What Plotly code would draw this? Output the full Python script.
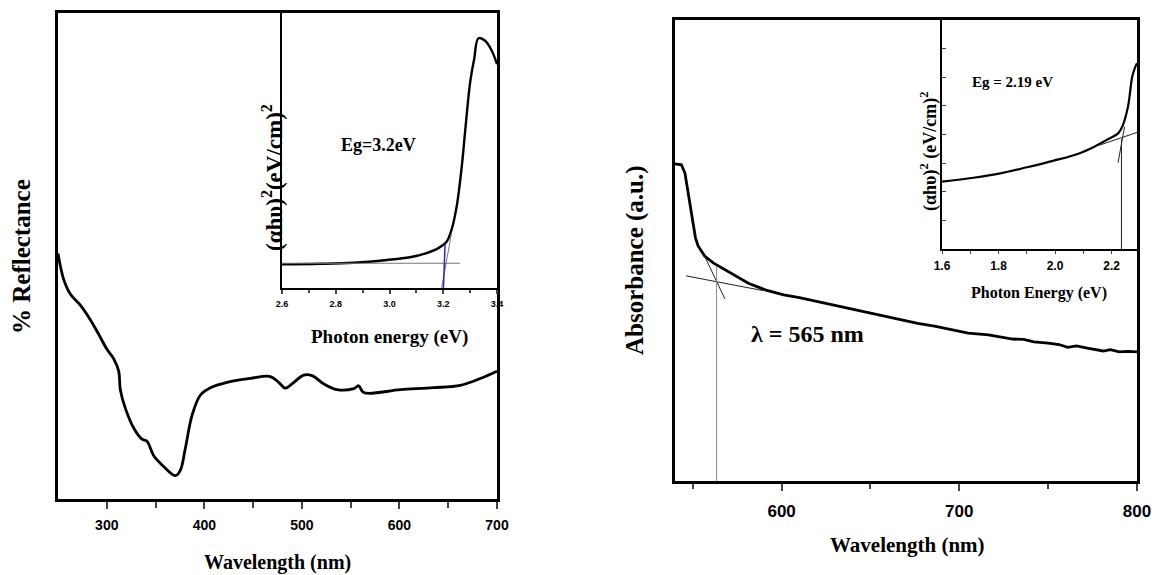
import plotly.graph_objects as go

W, H = 1152, 575

# ---------------- data ----------------
# Left panel: % reflectance vs wavelength (arbitrary units 0-100)
refl_wl = [250, 255.8, 262.6, 272.9, 283.1, 291.7, 300.2, 307, 312.2, 313.9, 319, 327.6,
           336.1, 341.2, 348.1, 358.3, 370.3, 375.4, 380.5, 387.4, 396, 406.2, 423.3,
           447.2, 467.7, 476.2, 483.1, 489.9, 501.9, 510.4, 522.3, 536, 553.1, 558.2,
           563.3, 600.9, 635.1, 662.4, 682.9, 700]
refl_val = [50.5, 45.2, 42.2, 39.9, 36.9, 33.9, 30.8, 28.9, 26.3, 22.5, 18.7, 14.6,
            12.3, 11.9, 8.9, 6.7, 4.8, 5.9, 10.4, 17.2, 21.4, 22.9, 24.0,
            24.8, 25.2, 24.0, 22.8, 23.7, 25.5, 25.4, 23.7, 22.5, 22.7, 23.3,
            21.9, 22.5, 22.9, 23.4, 24.8, 26.3]

# Left inset: (alpha h nu)^2 vs photon energy
tauc1_ev = [2.6, 2.741, 2.865, 2.99, 3.076, 3.138, 3.182, 3.213, 3.231, 3.25, 3.269,
            3.281, 3.3, 3.315, 3.331, 3.356, 3.381, 3.4]
tauc1_val = [8.6, 8.8, 9.2, 10.2, 11.2, 12.7, 14.5, 16.9, 21.2, 29.7, 44.3,
             56.5, 74.7, 83.2, 90.8, 89.9, 86.2, 81.4]
base1_ev = [2.6, 3.262]
base1_val = [9.0, 9.0]
tan1_ev = [3.194, 3.231]
tan1_val = [0.0, 20.0]
eg1_ev = [3.2005, 3.207]
eg1_val = [0.0, 16.3]

# Right panel: absorbance vs wavelength
abs_wl = [540, 543.6, 545.6, 547.5, 549.9, 551.5, 553, 556.7, 561.5, 567.4, 573.4,
          581.3, 591.2, 601.2, 610, 617.1, 625, 636.9, 645, 656.8, 665, 676.6, 686,
          696.5, 705, 716.4, 722, 730, 736.2, 742, 750, 756.1, 761, 766, 772, 775.9,
          781, 785, 790, 795, 800]
abs_val = [68.8, 68.6, 66.8, 62.2, 56.4, 52.8, 51.0, 48.8, 47.3, 46.0, 44.6,
           42.9, 41.4, 40.4, 39.8, 39.2, 38.6, 37.6, 36.8, 35.9, 35.2, 34.2, 33.6,
           32.8, 32.1, 31.7, 31.3, 30.8, 30.7, 30.2, 29.9, 29.6, 29.0, 29.3, 28.8, 28.6,
           28.2, 28.5, 28.0, 28.1, 28.0]
tanA_wl = [546.2, 589.6]
tanA_val = [44.5, 41.3]
tanB_wl = [555.9, 568.1]
tanB_val = [49.4, 39.5]
lam_wl = [563.4, 563.4]
lam_val = [0.0, 46.5]

# Right inset
tauc2_ev = [1.6, 1.711, 1.806, 1.901, 1.996, 2.08, 2.139, 2.187, 2.223, 2.24, 2.258,
            2.273, 2.282, 2.29]
tauc2_val = [29.4, 31.1, 33.0, 35.7, 38.6, 41.5, 44.7, 47.9, 50.5, 54.1, 62.1,
             75.2, 78.9, 81.1]
tan2_ev = [2.151, 2.29]
tan2_val = [45.1, 50.9]
tan2b_ev = [2.223, 2.246]
tan2b_val = [37.7, 53.4]
eg2_ev = [2.235, 2.235]
eg2_val = [0.0, 48.0]

left_ticks = [300, 400, 500, 600, 700]
inset1_ticks = [2.6, 2.8, 3.0, 3.2, 3.4]
right_ticks = [600, 700, 800]
inset2_ticks = [1.6, 1.8, 2.0, 2.2]


def px(x):
    return x / W


def py(y):
    return 1 - y / H


fig = go.Figure()

# main curves
fig.add_trace(go.Scatter(x=refl_wl, y=refl_val, mode="lines", line=dict(color="black", width=2.8),
                         xaxis="x", yaxis="y", line_shape="spline"))
fig.add_trace(go.Scatter(x=tauc1_ev, y=tauc1_val, mode="lines", line=dict(color="black", width=2.4),
                         xaxis="x2", yaxis="y2", line_shape="spline"))
fig.add_trace(go.Scatter(x=base1_ev, y=base1_val, mode="lines", line=dict(color="#777", width=1),
                         xaxis="x2", yaxis="y2"))
fig.add_trace(go.Scatter(x=tan1_ev, y=tan1_val, mode="lines", line=dict(color="#777", width=1),
                         xaxis="x2", yaxis="y2"))
fig.add_trace(go.Scatter(x=eg1_ev, y=eg1_val, mode="lines", line=dict(color="#2b2ba6", width=1.5),
                         xaxis="x2", yaxis="y2"))

fig.add_trace(go.Scatter(x=abs_wl, y=abs_val, mode="lines", line=dict(color="black", width=2.8),
                         xaxis="x3", yaxis="y3"))
fig.add_trace(go.Scatter(x=tanA_wl, y=tanA_val, mode="lines", line=dict(color="#222", width=1),
                         xaxis="x3", yaxis="y3"))
fig.add_trace(go.Scatter(x=tanB_wl, y=tanB_val, mode="lines", line=dict(color="#222", width=1),
                         xaxis="x3", yaxis="y3"))
fig.add_trace(go.Scatter(x=lam_wl, y=lam_val, mode="lines", line=dict(color="#888", width=1),
                         xaxis="x3", yaxis="y3"))

fig.add_trace(go.Scatter(x=tauc2_ev, y=tauc2_val, mode="lines", line=dict(color="black", width=2.2),
                         xaxis="x4", yaxis="y4", line_shape="spline"))
fig.add_trace(go.Scatter(x=tan2_ev, y=tan2_val, mode="lines", line=dict(color="#222", width=1),
                         xaxis="x4", yaxis="y4"))
fig.add_trace(go.Scatter(x=tan2b_ev, y=tan2b_val, mode="lines", line=dict(color="#222", width=1),
                         xaxis="x4", yaxis="y4"))
fig.add_trace(go.Scatter(x=eg2_ev, y=eg2_val, mode="lines", line=dict(color="#222", width=1),
                         xaxis="x4", yaxis="y4"))

tickfont_main = dict(family="Liberation Sans", size=14, color="black", weight="bold")

fig.update_layout(
    template="none",
    width=W, height=H, margin=dict(l=0, r=0, t=0, b=0, autoexpand=False),
    paper_bgcolor="white", plot_bgcolor="rgba(0,0,0,0)", showlegend=False,
    xaxis=dict(domain=[px(58), px(497)], range=[250, 700], anchor="y", automargin=False,
               tickvals=left_ticks, ticks="outside", ticklen=7, tickwidth=2,
               minor=dict(tickvals=[350, 450, 550, 650], ticks="outside", ticklen=6, tickwidth=2),
               showline=True, linewidth=3, linecolor="black", mirror=True,
               showgrid=False, zeroline=False, tickfont=tickfont_main, ticklabelstandoff=4,
               ticklabeloverflow="allow"),
    yaxis=dict(domain=[py(499), py(13)], range=[0, 100], anchor="x", automargin=False,
               showticklabels=False, ticks="", showline=True, linewidth=3, linecolor="black",
               mirror=True, showgrid=False, zeroline=False),
    xaxis2=dict(domain=[px(282), px(497)], range=[2.6, 3.4], anchor="y2", automargin=False,
                tickvals=inset1_ticks, tickformat=".1f", ticks="outside", ticklen=4, tickwidth=1.5,
                minor=dict(tickvals=[2.7, 2.9, 3.1, 3.3], ticks="outside", ticklen=3, tickwidth=1.5),
                showline=True, linewidth=2, linecolor="black", mirror=False,
                showgrid=False, zeroline=False,
                tickfont=dict(family="Liberation Sans", size=9, color="black", weight="bold"),
                ticklabelstandoff=2, ticklabeloverflow="allow"),
    yaxis2=dict(domain=[py(288), py(13)], range=[0, 100], anchor="x2", automargin=False,
                showticklabels=False, ticks="", showline=True, linewidth=2, linecolor="black",
                mirror=False, showgrid=False, zeroline=False),
    xaxis3=dict(domain=[px(675), px(1137)], range=[540, 800], anchor="y3", automargin=False,
                tickvals=right_ticks, ticks="outside", ticklen=7, tickwidth=2,
                minor=dict(tickvals=[550, 650, 750], ticks="outside", ticklen=5, tickwidth=2),
                showline=True, linewidth=3, linecolor="black", mirror=True,
                showgrid=False, zeroline=False,
                tickfont=dict(family="Liberation Sans", size=17, color="black", weight="bold"),
                ticklabelstandoff=6, ticklabeloverflow="allow"),
    yaxis3=dict(domain=[py(481), py(20)], range=[0, 100], anchor="x3", automargin=False,
                showticklabels=False, ticks="", showline=True, linewidth=3, linecolor="black",
                mirror=True, showgrid=False, zeroline=False),
    xaxis4=dict(domain=[px(942), px(1137)], range=[1.6, 2.29], anchor="y4", automargin=False,
                tickvals=inset2_ticks, tickformat=".1f", ticks="outside", ticklen=3, tickwidth=1.2,
                minor=dict(tickvals=[1.7, 1.9, 2.1], ticks="outside", ticklen=3, tickwidth=1.2),
                showline=True, linewidth=1.5, linecolor="black", mirror=False,
                showgrid=False, zeroline=False,
                tickfont=dict(family="Liberation Sans", size=12, color="black", weight="bold"),
                ticklabelstandoff=2, ticklabeloverflow="allow"),
    yaxis4=dict(domain=[py(249), py(20)], range=[0, 100], anchor="x4", automargin=False,
                showticklabels=False, tickvals=[12.5, 25, 37.5, 50, 62.5, 75, 87.5],
                ticks="inside", ticklen=4, tickwidth=1.2,
                showline=True, linewidth=1.5, linecolor="black",
                mirror=False, showgrid=False, zeroline=False),
)

serif = "Liberation Serif"


def ann(text, x, y, size, angle=0):
    fig.add_annotation(text="<b>" + text + "</b>", x=px(x), y=py(y), xref="paper", yref="paper",
                       showarrow=False, textangle=angle, xanchor="center", yanchor="middle",
                       font=dict(family=serif, size=size, color="black"))


ann("% Reflectance", 21, 257, 25, -90)
ann("Wavelength (nm)", 277, 562, 20)
ann("Eg=3.2eV", 378, 145, 18)
ann("(αhυ)<sup>2</sup>(eV/cm)<sup>2</sup>", 272, 178, 23, -90)
ann("Photon energy (eV)", 389, 337, 19)

ann("Absorbance (a.u.)", 635, 260, 25, -90)
ann("Wavelength (nm)", 907, 545, 21)
ann("λ = 565 nm", 807, 334, 24)
ann("Eg = 2.19 eV", 1012, 82, 15)
ann("Photon Energy (eV)", 1039, 293, 16)
ann("(αhυ)<sup>2</sup> (eV/cm)<sup>2</sup>", 929, 152, 18, -90)

fig.write_html("out.html", config={"displayModeBar": False},
               post_script="document.body.style.margin='0';document.body.style.overflow='hidden';")
